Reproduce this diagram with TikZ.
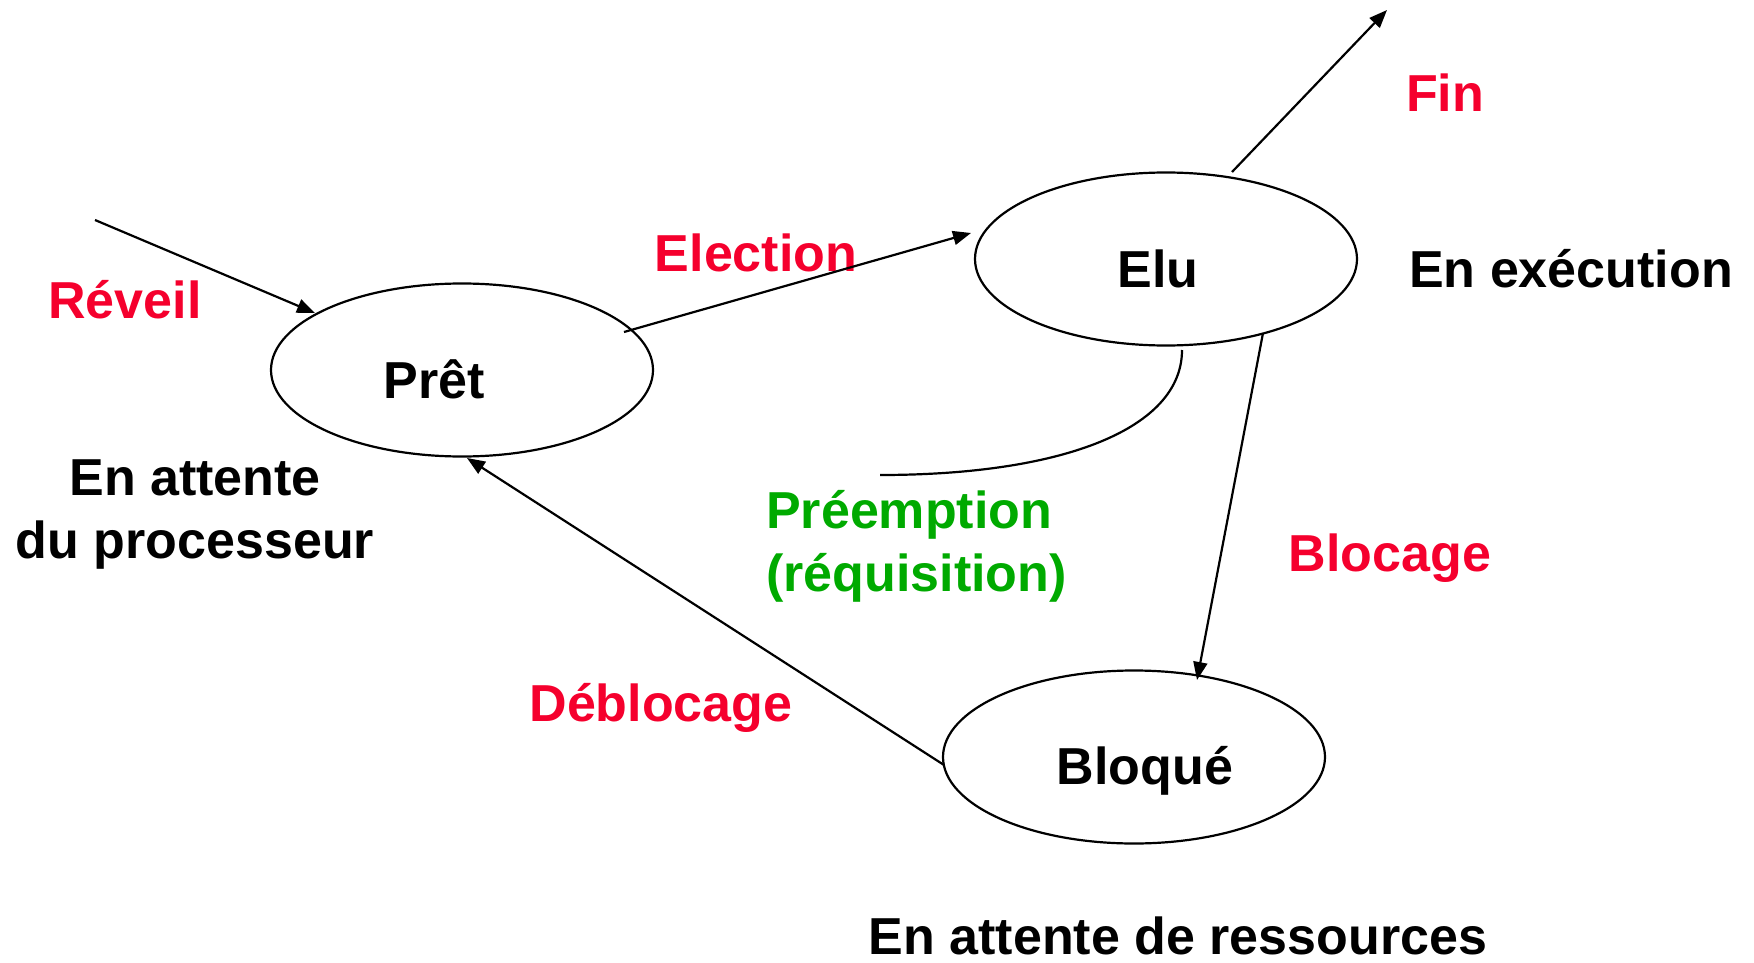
\documentclass[tikz,border=0pt]{standalone}
\usepackage{fontspec}
\setmainfont{Liberation Sans}
\usetikzlibrary{arrows.meta,shapes.geometric,calc}
\definecolor{lblred}{RGB}{245,0,45}
\definecolor{lblgreen}{RGB}{0,170,0}
\begin{document}
\begin{tikzpicture}[x=1pt,y=-1pt,
  state/.style={ellipse,draw,line width=2.2pt,minimum width=382pt,minimum height=173pt,inner sep=0pt},
  txt/.style={font=\fontsize{52}{63}\selectfont\bfseries,inner sep=0pt,anchor=base},
  red label/.style={txt,text=lblred},
  green label/.style={txt,text=lblgreen},
  conn/.style={line width=2.2pt,-{Triangle[length=18pt,width=14pt]}},
  plain conn/.style={line width=2.2pt}]
\useasboundingbox (0,0) rectangle (1754,963);

% process states
\node[state] (pret) at (462,370) {};
\node[state] (elu) at (1166,259) {};
\node[state] (bloque) at (1134,757) {};

% state names
\node[txt] (tpret) at (434,398) {Prêt};
\node[txt] (telu) at (1158,287) {Elu};
\node[txt] (tbloque) at (1145,784) {Bloqué};

% state descriptions (multi-line nodes sit on their last baseline)
\node[txt,align=center] (tproc) at (195,558) {En attente\\du processeur};
\node[txt] (texec) at (1571,287) {En exécution};
\node[txt] (tres) at (1178,954) {En attente de ressources};

% transition labels
\node[red label] (treveil) at (125,318) {Réveil};
\node[red label] (telection) at (756,271) {Election};
\node[red label] (tfin) at (1445,112) {Fin};
\node[red label] (tblocage) at (1390,571) {Blocage};
\node[red label] (tdebloc) at (661,721) {Déblocage};
\node[green label,align=left,anchor=base west] (tpre) at (766,591) {Préemption\\(réquisition)};

% transitions
\coordinate (revstart) at (95,220);
\coordinate (finend) at (1387,10);
\coordinate (pre0) at ($(elu.center)+(16,91)$);
\coordinate (pre1) at (880,475);

\draw[conn] (revstart) -- ($(pret.center)+(-147,-57)$);
\draw[conn] ($(pret.center)+(162,-38)$) -- ($(elu.center)+(-195,-26)$);
\draw[conn] ($(elu.center)+(66,-87)$) -- (finend);
\draw[conn] ($(elu.center)+(97,74)$) -- ($(bloque.center)+(63,-77)$);
\draw[conn] ($(bloque.center)+(-190,8)$) -- ($(pret.center)+(5,88)$);
\draw[plain conn] (pre0) .. controls ($(pre0)+(0,78)$) and ($(pre1)+(185,0)$) .. (pre1);
\end{tikzpicture}
\end{document}
